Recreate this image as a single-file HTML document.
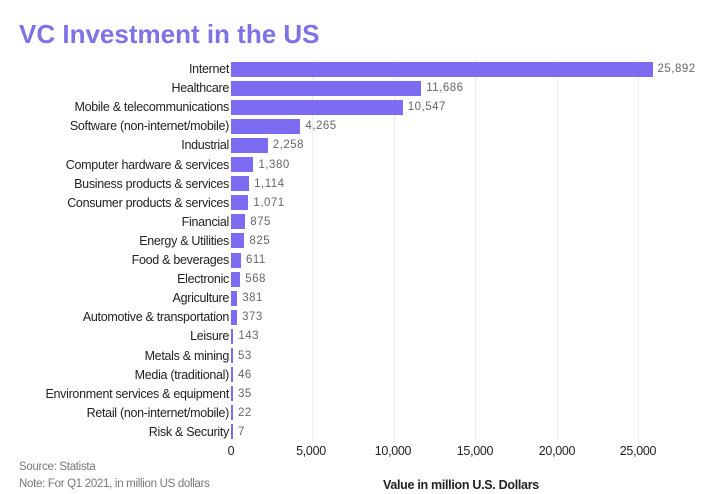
<!DOCTYPE html>
<html><head><meta charset="utf-8"><style>
body{margin:0;width:720px;height:494px;background:#fff;position:relative;overflow:hidden;font-family:"Liberation Sans",sans-serif;}
.t{position:absolute;left:19px;top:19px;font-size:26px;font-weight:bold;color:#7d73e6;letter-spacing:0px;}
.l{position:absolute;right:491px;font-size:12.5px;color:#222;white-space:nowrap;line-height:16px;letter-spacing:-0.3px}
.b{position:absolute;left:231px;height:15px;background:#7b6cf2;}
.v{position:absolute;font-size:11.5px;color:#666;line-height:16px;letter-spacing:0.5px}
.g{position:absolute;top:60px;height:382px;width:1px;background:#eee;}
.x{position:absolute;top:444px;font-size:12.5px;color:#222;transform:translateX(-50%);letter-spacing:-0.3px}
.s{position:absolute;left:19px;font-size:11.5px;color:#777;letter-spacing:-0.3px}
</style></head><body>
<div class="t">VC Investment in the US</div>
<div class="g" style="left:312px"></div><div class="g" style="left:394px"></div><div class="g" style="left:475px"></div><div class="g" style="left:557px"></div><div class="g" style="left:638px"></div>
<div id="c"></div>
<div class="x" style="left:231px">0</div><div class="x" style="left:311px">5,000</div><div class="x" style="left:393px">10,000</div><div class="x" style="left:475px">15,000</div><div class="x" style="left:557px">20,000</div><div class="x" style="left:638px">25,000</div>
<div class="s" style="top:461px">Source: Statista</div>
<div class="s" style="top:478px">Note: For Q1 2021, in million US dollars</div>
<div style="position:absolute;left:383px;top:478px;font-size:12.5px;font-weight:bold;color:#222;letter-spacing:-0.3px">Value in million U.S. Dollars</div>
<script>
var d=[["Internet",25892],["Healthcare",11686],["Mobile & telecommunications",10547],["Software (non-internet/mobile)",4265],["Industrial",2258],["Computer hardware & services",1380],["Business products & services",1114],["Consumer products & services",1071],["Financial",875],["Energy & Utilities",825],["Food & beverages",611],["Electronic",568],["Agriculture",381],["Automotive & transportation",373],["Leisure",143],["Metals & mining",53],["Media (traditional)",46],["Environment services & equipment",35],["Retail (non-internet/mobile)",22],["Risk & Security",7]];
var h="";d.forEach(function(r,i){var y=61+i*19.1,w=Math.max(r[1]*0.01628,2);
h+='<div class="l" style="top:'+(y)+'px">'+r[0].replace(/&/g,"&amp;")+'</div><div class="b" style="top:'+(y+0.5)+'px;width:'+w+'px"></div><div class="v" style="top:'+y+'px;left:'+(231+w+5)+'px">'+r[1].toLocaleString("en-US")+'</div>';});
document.getElementById("c").innerHTML=h;
</script>
</body></html>
